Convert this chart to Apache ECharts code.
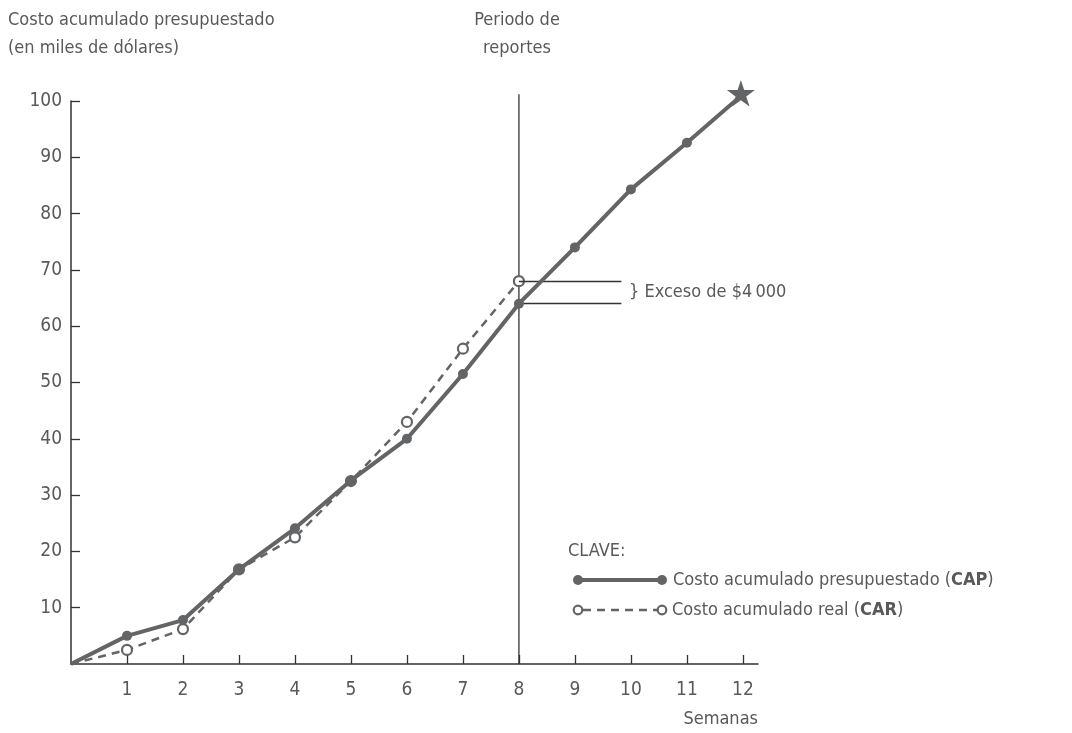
<!DOCTYPE html>
<html>
<head>
<meta charset="utf-8">
<script src="https://cdn.jsdelivr.net/npm/echarts@6/dist/echarts.min.js"></script>
<style>
  html, body { margin: 0; padding: 0; background: #fff; }
  #chart { width: 1072px; height: 733px; }
</style>
</head>
<body>
<div id="chart"></div>
<script>
// ---- data ----
const weeks = [0, 1, 2, 3, 4, 5, 6, 7, 8, 9, 10, 11, 12];
const budgetCost = [0, 5, 7.8, 16.8, 24.1, 32.6, 40, 51.5, 64, 74, 84.3, 92.6, 101.2]; // CAP
const actualWeeks = [0, 1, 2, 3, 4, 5, 6, 7, 8];
const actualCost = [0, 2.5, 6.2, 16.8, 22.5, 32.5, 43, 56, 68]; // CAR
const xTickLabels = [1, 2, 3, 4, 5, 6, 7, 8, 9, 10, 11, 12];
const yTickLabels = [10, 20, 30, 40, 50, 60, 70, 80, 90, 100];
const reportWeek = 8;
const reportLineTop = 101.2;
const overrunEndWeek = 9.83;
const yTitle = 'Costo acumulado presupuestado\n(en miles de dólares)';
const reportTitle = 'Periodo de\nreportes';
const xName = 'Semanas';
const overrunText = '} Exceso de $4\u2009000';
const legendTitle = 'CLAVE:';
const legendCap = 'Costo acumulado presupuestado ({b|CAP})';
const legendCar = 'Costo acumulado real ({b|CAR})';

const FONT = "'Liberation Sans Narrow', 'DejaVu Sans Condensed', 'Roboto', sans-serif";
const TXT = '#58595b';
const LINE = '#636466';
const AXIS = '#333333';
const STAR = 'path://M50 0 L61.23 34.55 L97.55 34.55 L68.17 55.9 L79.39 90.45 L50 69.1 L20.61 90.45 L31.83 55.9 L2.45 34.55 L38.77 34.55 Z';

const budgetData = weeks.map((w, i) => {
  const item = { value: [w, budgetCost[i]] };
  if (i === 0) item.symbol = 'none';
  if (i === weeks.length - 1) { item.symbol = STAR; item.symbolSize = 28; item.symbolOffset = [-2, -1]; }
  return item;
});
const actualData = actualWeeks.map((w, i) => {
  const item = { value: [w, actualCost[i]] };
  if (i === 0) item.symbol = 'none';
  return item;
});
const lastActual = actualCost[actualCost.length - 1];
const budgetAtReport = budgetCost[weeks.indexOf(reportWeek)];

const chart = echarts.init(document.getElementById('chart'), null, { renderer: 'canvas' });

const legendX = 578, legendY1 = 580, legendY2 = 610;
const option = {
  backgroundColor: '#ffffff',
  animation: false,
  textStyle: { fontFamily: FONT },
  title: [
    {
      text: yTitle, left: 3, top: 1,
      textStyle: { fontFamily: FONT, fontSize: 18, fontWeight: 'normal', color: TXT, lineHeight: 28 }
    },
    {
      text: reportTitle, left: 512, top: 1, textAlign: 'center',
      textStyle: { fontFamily: FONT, fontSize: 18, fontWeight: 'normal', color: TXT, lineHeight: 28, align: 'center' }
    }
  ],
  grid: { left: 71, right: 314, top: 101, bottom: 69, containLabel: false },
  xAxis: {
    type: 'value', min: 0, max: 12.27, interval: 1,
    name: xName, nameLocation: 'end', nameGap: 0,
    nameTextStyle: { fontFamily: FONT, fontSize: 18, color: TXT, align: 'right', verticalAlign: 'top', padding: [46, 0, 0, 0] },
    axisLine: { show: true, lineStyle: { color: AXIS, width: 1.5 } },
    axisTick: { show: true, inside: true, length: 9, customValues: xTickLabels, lineStyle: { color: AXIS, width: 1.3 } },
    axisLabel: { customValues: xTickLabels, fontFamily: FONT, fontSize: 19, color: TXT, margin: 17 },
    splitLine: { show: false }
  },
  yAxis: {
    type: 'value', min: 0, max: 100, interval: 10,
    axisLine: { show: true, lineStyle: { color: AXIS, width: 1.5 } },
    axisTick: { show: true, inside: true, length: 9, customValues: yTickLabels, lineStyle: { color: AXIS, width: 1.3 } },
    axisLabel: { customValues: yTickLabels, fontFamily: FONT, fontSize: 19, color: TXT, margin: 9 },
    splitLine: { show: false }
  },
  series: [
    {
      name: 'reporte', type: 'line', z: 1, clip: false, silent: true,
      data: [[reportWeek, 0], [reportWeek, reportLineTop]],
      symbol: 'none',
      lineStyle: { color: AXIS, width: 1.3 }
    },
    {
      name: 'CAR', type: 'line', z: 3, clip: false,
      data: actualData,
      symbol: 'circle', symbolSize: 10,
      itemStyle: { color: '#ffffff', borderColor: LINE, borderWidth: 2.2 },
      lineStyle: { color: LINE, width: 2.5, type: [8, 6] },
      markLine: {
        silent: true, symbol: 'none',
        lineStyle: { color: AXIS, width: 1.3, type: 'solid' },
        label: { show: false },
        data: [
          [{ coord: [reportWeek, lastActual] }, { coord: [overrunEndWeek, lastActual] }],
          [{ coord: [reportWeek, budgetAtReport] }, { coord: [overrunEndWeek, budgetAtReport] }]
        ]
      }
    },
    {
      name: 'CAP', type: 'line', z: 5, clip: false,
      data: budgetData,
      symbol: 'circle', symbolSize: 10, symbolKeepAspect: true,
      itemStyle: { color: LINE },
      lineStyle: { color: LINE, width: 4 }
    }
  ],
  graphic: [
    {
      type: 'text', left: 629, top: 283,
      style: { text: overrunText, fontFamily: FONT, fontSize: 18, fill: TXT }
    },
    {
      type: 'text', left: 568, top: 542,
      style: { text: legendTitle, fontFamily: FONT, fontSize: 18, fill: TXT }
    },
    { type: 'line', shape: { x1: legendX, y1: legendY1, x2: legendX + 84, y2: legendY1 }, style: { stroke: LINE, lineWidth: 4 } },
    { type: 'circle', shape: { cx: legendX, cy: legendY1, r: 5 }, style: { fill: LINE } },
    { type: 'circle', shape: { cx: legendX + 84, cy: legendY1, r: 5 }, style: { fill: LINE } },
    {
      type: 'text', left: 673, top: legendY1 - 9,
      style: {
        text: legendCap, fontFamily: FONT, fontSize: 18, fill: TXT,
        rich: { b: { fontFamily: FONT, fontSize: 18, fontWeight: 'bold', fill: TXT } }
      }
    },
    { type: 'line', shape: { x1: legendX + 5, y1: legendY2, x2: legendX + 79, y2: legendY2 }, style: { stroke: LINE, lineWidth: 2.5, lineDash: [8, 6] } },
    { type: 'circle', shape: { cx: legendX, cy: legendY2, r: 4.3 }, style: { fill: '#fff', stroke: LINE, lineWidth: 2.2 } },
    { type: 'circle', shape: { cx: legendX + 84, cy: legendY2, r: 4.3 }, style: { fill: '#fff', stroke: LINE, lineWidth: 2.2 } },
    {
      type: 'text', left: 672, top: legendY2 - 9,
      style: {
        text: legendCar, fontFamily: FONT, fontSize: 18, fill: TXT,
        rich: { b: { fontFamily: FONT, fontSize: 18, fontWeight: 'bold', fill: TXT } }
      }
    }
  ]
};
chart.setOption(option);
</script>
</body>
</html>
